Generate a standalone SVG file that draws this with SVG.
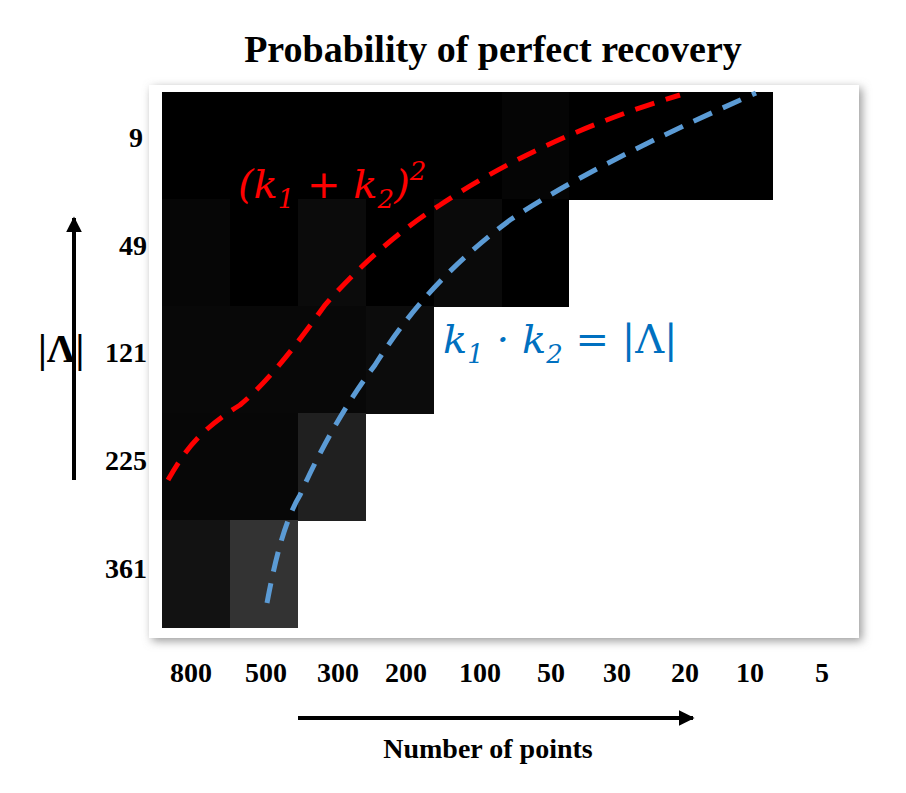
<svg xmlns="http://www.w3.org/2000/svg" width="906" height="793" viewBox="0 0 906 793">
<defs>
<style>
.t{font-family:"Liberation Serif",serif;font-weight:bold;fill:#000}
.m{font-family:"DejaVu Serif","Liberation Serif",serif;font-style:italic}
</style>
<filter id="sh" x="-5%" y="-5%" width="110%" height="110%"><feGaussianBlur stdDeviation="5"/></filter>
<marker id="ar" viewBox="0 0 10 10" refX="9" refY="5" markerWidth="4" markerHeight="4" orient="auto"><path d="M0,0L10,5L0,10z" fill="#000"/></marker>
</defs>
<rect width="906" height="793" fill="#fff"/>
<text class="t" x="493" y="62" font-size="38" text-anchor="middle">Probability of perfect recovery</text>
<rect x="152" y="88" width="710" height="553" fill="#999" filter="url(#sh)"/>
<rect x="149" y="85" width="710" height="553" fill="#fff"/>
<g id="heatmap">
<rect x="162" y="92" width="611" height="108" fill="#000"/>
<rect x="502" y="92" width="67" height="108" fill="#050505"/>
<rect x="162" y="199" width="68" height="108" fill="#060606"/>
<rect x="230" y="199" width="68" height="108" fill="#000"/>
<rect x="298" y="199" width="68" height="108" fill="#0b0b0b"/>
<rect x="366" y="199" width="68" height="108" fill="#000"/>
<rect x="434" y="199" width="68" height="108" fill="#0a0a0a"/>
<rect x="502" y="199" width="67" height="108" fill="#000"/>
<rect x="162" y="306" width="204" height="108" fill="#080808"/>
<rect x="366" y="306" width="68" height="108" fill="#0c0c0c"/>
<rect x="162" y="413" width="136" height="108" fill="#070707"/>
<rect x="298" y="413" width="68" height="108" fill="#202020"/>
<rect x="162" y="520" width="68" height="108" fill="#121212"/>
<rect x="230" y="520" width="68" height="108" fill="#333"/>
</g>
<g id="connectors" fill="none" stroke-width="5" stroke-dasharray="20 12">
<path d="M168,480 C185,450 200,430 240,405 C270,380 300,340 325,305 C360,265 400,230 440,205 C500,165 580,125 680,95" stroke="#ff0000"/>
<path d="M267,603 C275,560 285,520 300,495 C320,450 345,405 375,365 C410,310 450,265 510,220 C570,180 650,140 756,93" stroke="#5b9bd5"/>
</g>
<text class="m" x="238" y="198" font-size="40" fill="#ff0000">(k<tspan font-size="26" dy="10">1</tspan><tspan dy="-10"> + k</tspan><tspan font-size="26" dy="10">2</tspan><tspan dy="-10">)</tspan><tspan font-size="26" dy="-18">2</tspan></text>
<text class="m" x="443" y="353" font-size="40" fill="#0070c0">k<tspan font-size="26" dy="10">1</tspan><tspan dy="-10"> · k</tspan><tspan font-size="26" dy="10">2</tspan><tspan dy="-10" font-style="normal"> = |Λ|</tspan></text>
<g id="yaxis">
<text class="t" x="38" y="362" font-size="40">|Λ|</text>
<line x1="74" y1="480" x2="74" y2="218" stroke="#000" stroke-width="4" marker-end="url(#ar)"/>
<g font-size="28" text-anchor="end">
<text class="t" x="143" y="147">9</text>
<text class="t" x="147" y="255">49</text>
<text class="t" x="147" y="362">121</text>
<text class="t" x="147" y="470">225</text>
<text class="t" x="147" y="578">361</text>
</g>
</g>
<g id="xaxis" font-size="28" text-anchor="middle">
<text class="t" x="191" y="682">800</text>
<text class="t" x="266" y="682">500</text>
<text class="t" x="338" y="682">300</text>
<text class="t" x="406" y="682">200</text>
<text class="t" x="480" y="682">100</text>
<text class="t" x="551" y="682">50</text>
<text class="t" x="617" y="682">30</text>
<text class="t" x="685" y="682">20</text>
<text class="t" x="750" y="682">10</text>
<text class="t" x="822" y="682">5</text>
<line x1="298" y1="718" x2="693" y2="718" stroke="#000" stroke-width="4" marker-end="url(#ar)"/>
<text class="t" x="488" y="758">Number of points</text>
</g>
</svg>
